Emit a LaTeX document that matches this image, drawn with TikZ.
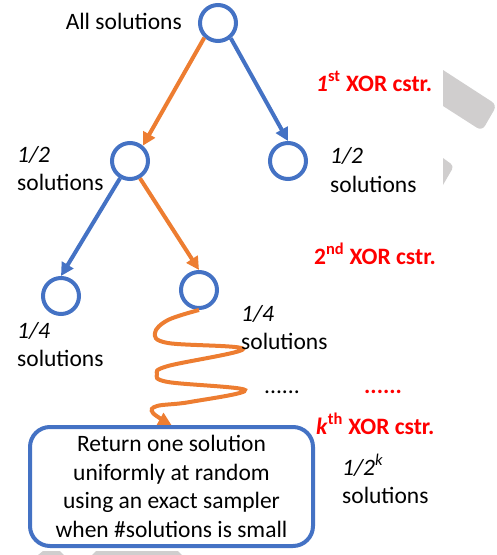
\documentclass[tikz,border=0pt]{standalone}
\usepackage{fontspec}
\setmainfont{Carlito}
\usetikzlibrary{arrows.meta}
\definecolor{xblue}{RGB}{68,114,196}
\definecolor{xorange}{RGB}{237,125,49}
\definecolor{xred}{RGB}{255,0,0}
\definecolor{ghost}{RGB}{208,206,206}

\begin{document}
\begin{tikzpicture}[x=1pt,y=-1pt,
  sol/.style={circle, draw=xblue, line width=4pt, minimum size=36pt, inner sep=0pt},
  txt/.style={inner sep=0pt, anchor=base west, font=\fontsize{23.5}{28.5}\selectfont},
  cstr/.style={txt, text=xred, font=\fontsize{23.5}{28.5}\selectfont\bfseries},
  cut/.style={line width=4pt, -{Triangle[length=13pt,width=13pt]}},
  box/.style={draw=xblue, line width=4pt, rounded corners=20pt, minimum width=283pt,
    minimum height=119pt, inner sep=0pt, align=center, font=\fontsize{23.5}{28.5}\selectfont}]
\useasboundingbox (0,0) rectangle (497,555);
% slide leftovers
\fill[ghost] (443,70) [rounded corners=6pt] -- (497,105) -- (482,131) [sharp corners] -- (443,106) -- cycle;
\fill[ghost] (443,158) [rounded corners=4pt] -- (454,166) [sharp corners] -- (443,185) -- cycle;
\fill[ghost] (38,555) -- (43,551) -- (60,551) -- (64,555) -- cycle;
\fill[ghost] (92,555) -- (96,551) -- (178,551) -- (182,555) -- cycle;

% tree of solutions
\node[sol] (root) at (218,23) {};
\node[sol] (hl) at (130,161) {};
\node[sol] (hr) at (288,161) {};
\node[sol] (ql) at (61,296) {};
\node[sol] (qr) at (199,290) {};
\node[box] (sampler) at (171.5,486.5) {Return one solution\\uniformly at random\\using an exact sampler\\when \#solutions is small};

\draw[cut, xorange] (root.-133) -- (hl.50);
\draw[cut, xblue] (root.-50) -- (hr.north);
\draw[cut, xblue] (hl.-120) -- (ql.north);
\draw[cut, xorange] (hl.-60) -- (qr.north);
\draw[cut, xorange] plot[smooth, tension=0.6] coordinates {(qr.south) (168,320) (155,333) (168,343) (243,349)
  (168,366) (157,374) (168,382) (245,390) (190,402) (157,406) (153,413) (sampler.north)};

% labels
\node[txt, anchor=base east] (lall) at (182,29) {All solutions};
\node[txt] (lhl) at (17,162) {\textit{1/2}};
\node[txt] (lhl2) at (17,190) {solutions};
\node[txt] (lhr) at (330,163) {\textit{1/2}};
\node[txt] (lhr2) at (330,192) {solutions};
\node[txt] (lql) at (17,338) {\textit{1/4}};
\node[txt] (lql2) at (17,366) {solutions};
\node[txt] (lqr) at (241,321) {\textit{1/4}};
\node[txt] (lqr2) at (241,349) {solutions};
\node[txt] (lk) at (342,475) {\textit{1/2\textsuperscript{k}}};
\node[txt] (lk2) at (342,503) {solutions};
\node[txt] (dots) at (264,393) {......};
\node[cstr] (c1) at (316,91) {\textit{1}\textsuperscript{st} XOR cstr.};
\node[cstr] (c2) at (314,264) {2\textsuperscript{nd} XOR cstr.};
\node[cstr] (rdots) at (364,393) {......};
\node[cstr] (ck) at (316,434) {\textit{k}\textsuperscript{th} XOR cstr.};
\end{tikzpicture}
\end{document}
